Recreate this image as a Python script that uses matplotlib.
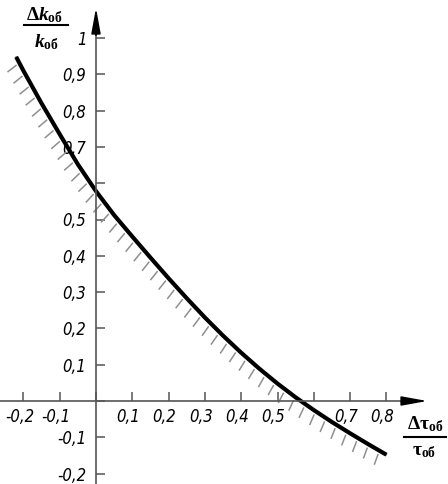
import numpy as np
import matplotlib
matplotlib.use("Agg")
import matplotlib.pyplot as plt
from matplotlib import patheffects
from matplotlib.ticker import FixedLocator, FuncFormatter
from matplotlib.transforms import ScaledTranslation

# relative change of time constant vs relative change of gain
tau = [-0.22, -0.2, -0.15, -0.1, -0.05, 0.0, 0.05, 0.1, 0.15, 0.2, 0.25,
       0.3, 0.35, 0.4, 0.45, 0.5, 0.55, 0.6, 0.65, 0.7, 0.75, 0.8]
k = [0.948, 0.91, 0.82, 0.735, 0.652, 0.578, 0.512, 0.453, 0.395, 0.338, 0.283,
     0.23, 0.18, 0.133, 0.089, 0.048, 0.01, -0.025, -0.058, -0.089, -0.119, -0.148]

x_ticks = [-0.2, -0.1, 0.0, 0.1, 0.2, 0.3, 0.4, 0.5, 0.6, 0.7, 0.8]
y_ticks = [-0.2, -0.1, 0.0, 0.1, 0.2, 0.3, 0.4, 0.5, 0.6, 0.7, 0.8, 0.9, 1.0]
hidden = [0.0, 0.6]

plt.rcParams['font.family'] = ['DejaVu Sans']
plt.rcParams['font.style'] = 'italic'
plt.rcParams['font.stretch'] = 'condensed'
plt.rcParams['mathtext.fontset'] = 'custom'
plt.rcParams['mathtext.rm'] = 'Liberation Serif:style=normal:weight=bold'
plt.rcParams['mathtext.it'] = 'Liberation Serif:style=italic:weight=bold'
plt.rcParams['mathtext.bf'] = 'Liberation Serif:style=normal:weight=bold'

axis_col = '#555555'

fig = plt.figure(figsize=(4.48, 4.84), dpi=100)
ax = fig.add_axes([0, 0, 1, 1])
ax.set_xlim(-96 / 363, 352 / 363)
ax.set_ylim(-83 / 363, 401 / 363)

# axes through the origin
for s in ['top', 'right']:
    ax.spines[s].set_visible(False)
ax.spines['left'].set_position('zero')
ax.spines['bottom'].set_position('zero')
ax.spines['left'].set_bounds(-83 / 363, 1.06)
ax.spines['bottom'].set_bounds(-96 / 363, 0.9)
for s in ['left', 'bottom']:
    ax.spines[s].set_color(axis_col)
    ax.spines[s].set_linewidth(1.2)

ax.annotate('', xy=(0, 396 / 363), xytext=(0, 1.0),
            arrowprops=dict(arrowstyle='-|>,head_length=1.1,head_width=0.2',
                            color='black', lw=1.2, mutation_scale=14))
ax.annotate('', xy=(334 / 363, 0), xytext=(0.85, 0),
            arrowprops=dict(arrowstyle='-|>,head_length=1.1,head_width=0.2',
                            color='black', lw=1.2, mutation_scale=14))


def fmt(v, pos):
    if any(abs(v - h) < 1e-9 for h in hidden):
        return ''
    if abs(v - 1.0) < 1e-9:
        return '1'
    return ('%.1f' % v).replace('.', ',')


ax.xaxis.set_major_locator(FixedLocator(x_ticks))
ax.yaxis.set_major_locator(FixedLocator(y_ticks))
ax.xaxis.set_major_formatter(FuncFormatter(fmt))
ax.yaxis.set_major_formatter(FuncFormatter(fmt))
ax.tick_params(direction='in', length=6.5, width=1.1, color=axis_col, labelsize=12)
ax.tick_params(axis='x', pad=5)
ax.tick_params(axis='y', pad=7)
shift = ScaledTranslation(-4 / 100, 0, fig.dpi_scale_trans)
for lab in ax.get_xticklabels():
    lab.set_transform(lab.get_transform() + shift)

# hatching on the lower side of the curve
ax.plot(tau, k, color='#8f8f8f', lw=1.1,
        path_effects=[patheffects.withTickedStroke(offset=(-2.2, -2.2), spacing=9,
                                                   angle=-80, length=0.8)])
ax.plot(tau, k, color='black', lw=3.0, solid_capstyle='butt')

# axis captions as fractions
fig.text(45 / 448, 1 - 15 / 484, r'$\Delta k_{\mathrm{об}}$', ha='center', va='center', fontsize=14)
fig.text(46 / 448, 1 - 42 / 484, r'$k_{\mathrm{об}}$', ha='center', va='center', fontsize=14)
fig.add_artist(plt.Line2D([24 / 448, 68 / 448], [1 - 25 / 484, 1 - 25 / 484],
                          color='black', lw=1.5, transform=fig.transFigure))

fig.text(425 / 448, 1 - 424 / 484, r'$\Delta\mathrm{τ}_{\mathrm{об}}$', ha='center', va='center', fontsize=14)
fig.text(424 / 448, 1 - 450 / 484, r'$\mathrm{τ}_{\mathrm{об}}$', ha='center', va='center', fontsize=14)
fig.add_artist(plt.Line2D([404 / 448, 446 / 448], [1 - 437 / 484, 1 - 437 / 484],
                          color='black', lw=1.5, transform=fig.transFigure))

fig.savefig('out.png', dpi=100)
